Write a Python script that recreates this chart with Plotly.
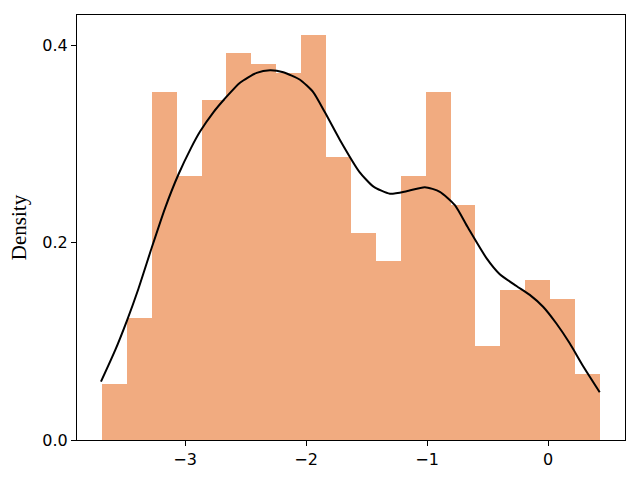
import plotly.graph_objects as go

# Histogram (density) data
bin_start = -3.686
bin_width = 0.2057
density = [0.0568, 0.1238, 0.353, 0.267, 0.344, 0.3916, 0.3814, 0.3723, 0.4108, 0.2864,
           0.210, 0.1816, 0.267, 0.353, 0.2384, 0.0954, 0.152, 0.1623, 0.143, 0.067]

# KDE curve points
kde_x = [-3.695, -3.579, -3.480, -3.386, -3.275, -3.165, -3.055, -2.950, -2.876, -2.766,
         -2.670, -2.546, -2.408, -2.298, -2.188, -2.050, -1.941, -1.844, -1.720, -1.561,
         -1.445, -1.307, -1.169, -1.018, -0.894, -0.770, -0.661, -0.509, -0.399, -0.261,
         -0.151, -0.041, 0.069, 0.179, 0.289, 0.427]
kde_y = [0.0591, 0.0905, 0.1210, 0.1530, 0.1950, 0.2350, 0.2690, 0.2960, 0.3125, 0.3320,
         0.3460, 0.3620, 0.3720, 0.3746, 0.3726, 0.3650, 0.3525, 0.3320, 0.3040, 0.2720,
         0.2570, 0.2495, 0.2520, 0.2562, 0.2515, 0.2380, 0.2150, 0.1843, 0.1680, 0.1560,
         0.1470, 0.1350, 0.1180, 0.0980, 0.0750, 0.0484]

x_ticks = [-3, -2, -1, 0]
x_tick_text = ["\u22123", "\u22122", "\u22121", "0"]
y_ticks = [0.0, 0.2, 0.4]
y_tick_text = ["0.0", "0.2", "0.4"]

centers = [bin_start + bin_width * (i + 0.5) for i in range(len(density))]

fig = go.Figure()
fig.add_trace(go.Bar(x=centers, y=density, width=[bin_width] * len(density),
                     marker=dict(color="#F1AB80", line=dict(width=0)), showlegend=False))
fig.add_trace(go.Scatter(x=kde_x, y=kde_y, mode="lines",
                         line=dict(color="black", width=2, shape="spline", smoothing=0.6),
                         showlegend=False))

fig.update_layout(
    width=640, height=480,
    margin=dict(l=77, r=15, t=15, b=40),
    plot_bgcolor="white", paper_bgcolor="white",
    bargap=0,
    font=dict(family="DejaVu Sans", size=16, color="black"),
)
fig.update_xaxes(range=[-3.893, 0.636], tickvals=x_ticks, ticktext=x_tick_text,
                 showline=True, linecolor="black", linewidth=1, mirror=True,
                 ticks="outside", ticklen=5, tickcolor="black", showgrid=False, zeroline=False)
fig.update_yaxes(range=[0, 0.4306], tickvals=y_ticks, ticktext=y_tick_text,
                 showline=True, linecolor="black", linewidth=1, mirror=True,
                 ticks="outside", ticklen=5, tickcolor="black", showgrid=False, zeroline=False,
                 title=dict(text="Density", font=dict(family="Liberation Serif", size=21), standoff=9))

fig.write_html("out.html", config={"displayModeBar": False},
               post_script="document.body.style.margin='0';")
